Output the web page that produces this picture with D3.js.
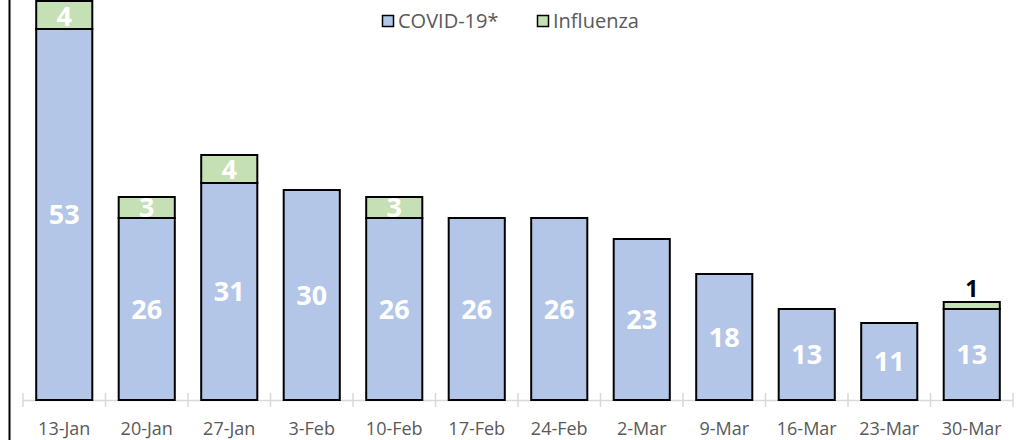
<!DOCTYPE html>
<html>
<head>
<meta charset="utf-8">
<script src="https://cdn.jsdelivr.net/npm/d3@7"></script>
<style>
html,body{margin:0;padding:0;background:#fff;}
svg{display:block;}
</style>
</head>
<body>
<svg id="chart" width="1018" height="440"></svg>
<script>
const categories = ["13-Jan","20-Jan","27-Jan","3-Feb","10-Feb","17-Feb","24-Feb","2-Mar","9-Mar","16-Mar","23-Mar","30-Mar"];
const covid = [53,26,31,30,26,26,26,23,18,13,11,13];
const influenza = [4,3,4,0,3,0,0,0,0,0,0,1];
const seriesNames = ["COVID-19*","Influenza"];
const colors = ["#b4c6e7","#c5e0b4"];

const svg = d3.select("#chart");
const W = 1018, H = 440;
const x = d3.scaleBand().domain(categories).range([23, 1013]).paddingInner(0.32).paddingOuter(0.16);
const y = d3.scaleLinear().domain([0, 57]).range([400, 1]);
const font = "'Open Sans', sans-serif";

// left axis line
svg.append("line").attr("x1",9.5).attr("x2",9.5).attr("y1",0).attr("y2",H)
  .attr("stroke","#000").attr("stroke-width",2);

// x axis
const ax = svg.append("g");
ax.append("line").attr("x1",23).attr("x2",1013).attr("y1",400.5).attr("y2",400.5)
  .attr("stroke","#d9d9d9").attr("stroke-width",1.5);
const bounds = d3.range(categories.length+1).map(i => 23 + i*x.step());
ax.selectAll("line.tick").data(bounds).join("line").attr("class","tick")
  .attr("x1",d=>d).attr("x2",d=>d).attr("y1",393).attr("y2",407)
  .attr("stroke","#d9d9d9").attr("stroke-width",1.5);
ax.selectAll("text").data(categories).join("text")
  .attr("x",d=>x(d)+x.bandwidth()/2).attr("y",435)
  .attr("text-anchor","middle").attr("font-family",font).attr("font-size",18)
  .attr("fill","#595959").text(d=>d);

const data = categories.map((c,i)=>({cat:c, covid:covid[i], flu:influenza[i]}));
const stack = d3.stack().keys(["covid","flu"])(data);

const g = svg.append("g");
stack.forEach((layer, li) => {
  g.selectAll(null).data(layer.filter(d=>d[1]-d[0]>0)).join("rect")
    .attr("x", d=>x(d.data.cat)).attr("width", x.bandwidth())
    .attr("y", d=>y(d[1])).attr("height", d=>y(d[0])-y(d[1]))
    .attr("fill", colors[li]).attr("stroke","#000").attr("stroke-width",2);
});

// labels
const lab = svg.append("g").attr("font-family",font).attr("font-weight","bold").attr("font-size",27).attr("text-anchor","middle");
stack[0].forEach(d=>{
  lab.append("text").attr("x", x(d.data.cat)+x.bandwidth()/2)
    .attr("y", (y(d[0])+y(d[1]))/2).attr("dy","0.36em").attr("fill","#fff").text(d[1]-d[0]);
});
stack[1].forEach(d=>{
  const v = d[1]-d[0];
  if (v<=0) return;
  const cx = x(d.data.cat)+x.bandwidth()/2;
  if (v===1) {
    lab.append("text").attr("x",cx).attr("y",y(d[1])-5).attr("fill","#000").attr("font-size",23).text(v);
  } else {
    const yc = Math.max((y(d[0])+y(d[1]))/2, 16);
    lab.append("text").attr("x",cx).attr("y",yc).attr("dy","0.36em").attr("fill","#fff").text(v);
  }
});

// legend
const leg = svg.append("g");
const legX = [382, 537];
seriesNames.forEach((n,i)=>{
  leg.append("rect").attr("x",legX[i]+0.5).attr("y",15.5).attr("width",11).attr("height",11)
    .attr("fill",colors[i]).attr("stroke","#000").attr("stroke-width",1.5);
  leg.append("text").attr("x",legX[i]+16).attr("y",28).attr("font-family",font).attr("font-size",20)
    .attr("fill","#595959").text(n);
});
</script>
</body>
</html>
